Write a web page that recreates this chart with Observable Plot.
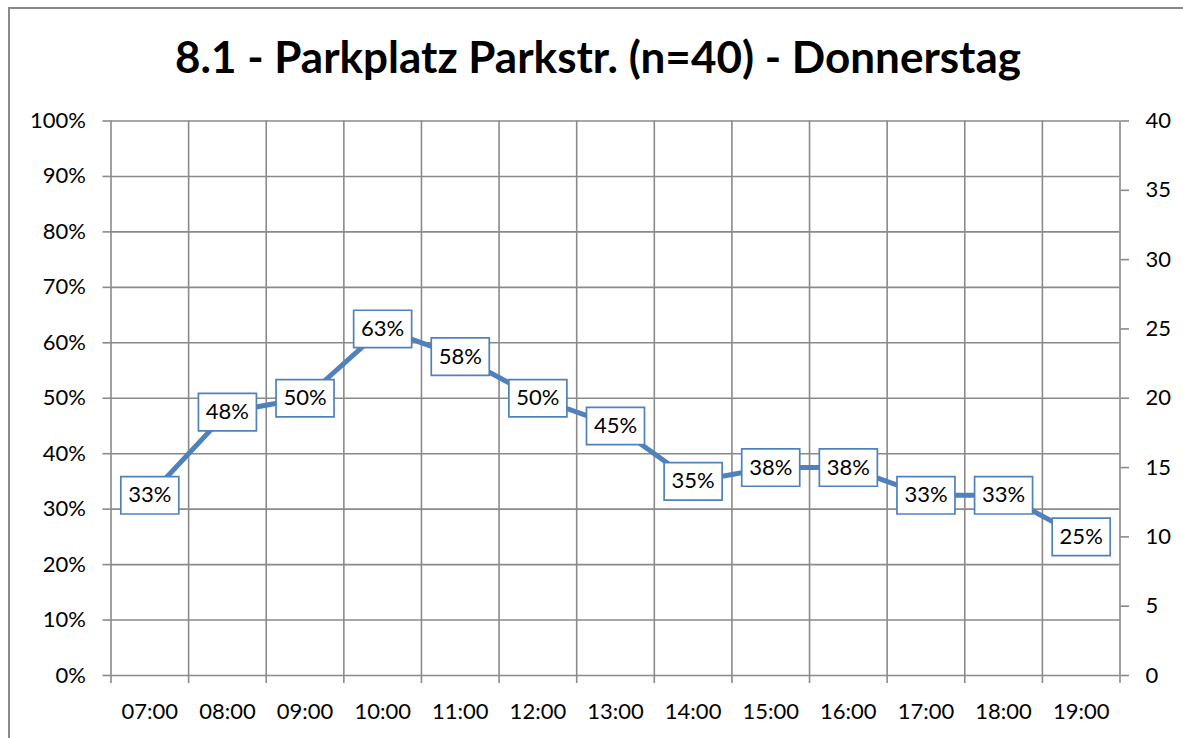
<!DOCTYPE html>
<html>
<head>
<meta charset="utf-8">
<script src="https://cdn.jsdelivr.net/npm/d3@7"></script>
<script src="https://cdn.jsdelivr.net/npm/@observablehq/plot@0.6"></script>
<style>
  html, body { margin: 0; padding: 0; background: #fff; overflow: hidden; width: 1183px; height: 738px; }
  #frame { position: absolute; left: 8px; top: 7px; width: 1200px; height: 760px; border-left: 2px solid #8a8a8a; border-top: 2px solid #8a8a8a; box-sizing: border-box; }
  #title { position: absolute; left: 0; top: 34px; width: 1196px; text-align: center; font-family: Lato, sans-serif; font-weight: 700; font-size: 44px; line-height: 1; color: #000; white-space: nowrap; }
  #chart { position: absolute; left: 0; top: 100px; }
</style>
</head>
<body>
<div id="frame"></div>
<div id="title">8.1 - Parkplatz Parkstr. (n=40) - Donnerstag</div>
<div id="chart"></div>
<script>
const hours = ["07:00","08:00","09:00","10:00","11:00","12:00","13:00","14:00","15:00","16:00","17:00","18:00","19:00"];
const counts = [13, 19, 20, 25, 23, 20, 18, 14, 15, 15, 13, 13, 10];
const n = 40;
const leftTicks = [0, 0.1, 0.2, 0.3, 0.4, 0.5, 0.6, 0.7, 0.8, 0.9, 1];
const rightTickValues = [0, 5, 10, 15, 20, 25, 30, 35, 40];

const data = hours.map((h, i) => ({
  pos: i + 0.5,
  hour: h,
  share: counts[i] / n,
  label: Math.round(counts[i] * 100 / n) + "%"
}));

const gridColor = "#8a8a8a";
const blue = "#4F81BD";

const boxSymbol = {
  draw(context) { context.rect(-29, -18.7, 58, 37.4); }
};

const chart = Plot.plot({
  width: 1183,
  height: 638,
  marginTop: 20.5,
  marginBottom: 63,
  marginLeft: 110.5,
  marginRight: 63.5,
  x: { domain: [0, hours.length], axis: null, label: null },
  y: { domain: [0, 1], axis: null, label: null },
  style: { fontFamily: "Lato, sans-serif", fontSize: "22px", color: "#000", background: "transparent" },
  marks: [
    Plot.gridY({ ticks: leftTicks, stroke: gridColor, strokeOpacity: 1, strokeWidth: 1.6 }),
    Plot.gridX({ ticks: d3.range(hours.length + 1), stroke: gridColor, strokeOpacity: 1, strokeWidth: 1.6 }),
    Plot.axisY({ ticks: leftTicks, anchor: "left", tickFormat: d3.format(".0%"), tickSize: 8, tickPadding: 17, stroke: gridColor, strokeWidth: 1.6, label: null, fontSize: 22 }),
    Plot.axisY({ ticks: rightTickValues.map(v => v / n), anchor: "right", tickFormat: d => String(Math.round(d * n)), tickSize: 8.5, tickPadding: 17, stroke: gridColor, strokeWidth: 1.6, label: null, fontSize: 22 }),
    Plot.axisX({ ticks: d3.range(hours.length + 1), anchor: "bottom", tickFormat: () => "", tickSize: 8, stroke: gridColor, strokeWidth: 1.6, label: null }),
    Plot.axisX({ ticks: data.map(d => d.pos), anchor: "bottom", tickFormat: d => hours[Math.floor(d)], tickSize: 0, tickPadding: 28, label: null, fontSize: 22 }),
    Plot.line(data, { x: "pos", y: "share", stroke: blue, strokeWidth: 5 }),
    Plot.dot(data, { x: "pos", y: "share", symbol: boxSymbol, fill: "white", stroke: blue, strokeWidth: 1.7 }),
    Plot.text(data, { x: "pos", y: "share", text: "label", fontSize: 22, fill: "#000" })
  ]
});
document.getElementById("chart").appendChild(chart);
</script>
</body>
</html>
